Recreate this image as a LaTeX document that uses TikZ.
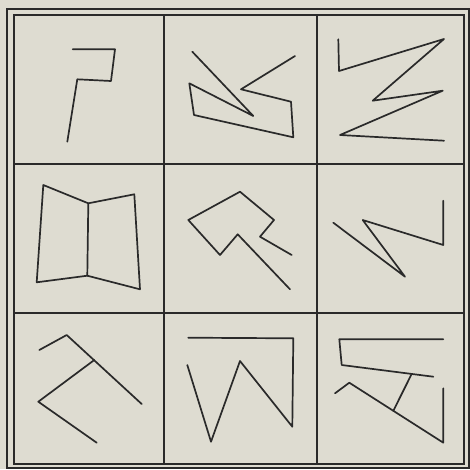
\documentclass[tikz,border=0pt]{standalone}
\definecolor{paper}{RGB}{222,220,209}
\definecolor{ink}{RGB}{42,42,42}
\begin{document}
\begin{tikzpicture}[x=1pt,y=-1pt,
  grid/.style={draw=ink,line width=1.8pt},
  fig/.style={draw=ink,line width=1.7pt,line join=round,line cap=round}]
\fill[paper] (0,0) rectangle (470,469);
\useasboundingbox (0,0) rectangle (470,469);
% frames
\draw[grid,line width=1.4pt] (7,9) rectangle (469,468);
\draw[grid] (14,15) rectangle (464,464);
\draw[grid] (164,15) -- (164,464);
\draw[grid] (317,15) -- (317,464);
\draw[grid] (14,164) -- (464,164);
\draw[grid] (14,313) -- (464,313);
% cell 1
\draw[fig] (72.7,49.3) -- (115,49.3) -- (111,81) -- (77.3,79.3) -- (67.3,141.7);
% cell 2
\draw[fig] (192.3,51.7) -- (253.3,116) -- (189.3,83.3) -- (194,115) -- (293.3,137.3) -- (291,101.7) -- (241,89.3) -- (295,56);
% cell 3
\draw[fig] (338.3,39.3) -- (339,71) -- (444,39) -- (372.7,100.7) -- (442.7,90.7) -- (340,135) -- (444,140.7);
% cell 4
\draw[fig] (43.3,185) -- (88.3,203.3) -- (134.3,194.3) -- (140,289.3) -- (87.3,275.7) -- (36.7,282.3) -- cycle;
\draw[fig] (88.3,203.3) -- (87.3,275.7);
% cell 5
\draw[fig] (291.7,255) -- (260,236.7) -- (274,220) -- (240,191.7) -- (188.3,220) -- (220,255) -- (237.7,234.3) -- (290,289.3);
% cell 6
\draw[fig] (333.3,222.7) -- (405,276.7) -- (362.7,220) -- (443.3,245) -- (443.3,200.7);
% cell 7
\draw[fig] (39.3,350) -- (66.7,335) -- (141.7,404);
\draw[fig] (96.7,442.7) -- (38.3,401.7) -- (94.3,360);
% cell 8
\draw[fig] (188.3,337.7) -- (293.3,338.3) -- (292.3,426.7) -- (240,361) -- (211,441.7) -- (187.3,365);
% cell 9
\draw[fig] (443.3,339.3) -- (339.3,339.3) -- (341.7,365) -- (433.3,376.7);
\draw[fig] (335,393.3) -- (349.3,382.7) -- (443.3,442.7) -- (443.3,388.3);
\draw[fig] (411.7,373.9) -- (393.3,410.8);
\end{tikzpicture}
\end{document}
